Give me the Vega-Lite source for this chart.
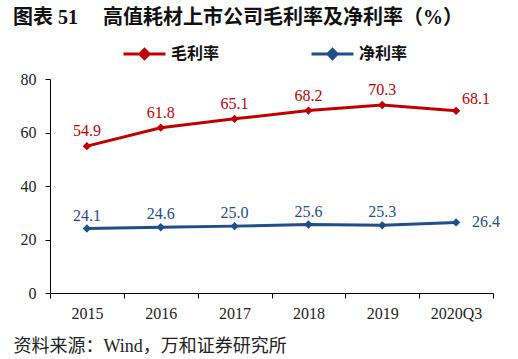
{
  "$schema": "https://vega.github.io/schema/vega-lite/v6.json",
  "width": 443,
  "height": 214,
  "autosize": "none",
  "padding": {"left": 50, "top": 79, "right": 25, "bottom": 66},
  "background": "white",
  "title": {
    "text": "图表  51　  高值耗材上市公司毛利率及净利率（%）",
    "anchor": "start",
    "frame": "group",
    "font": "Liberation Serif, Noto Sans CJK SC",
    "fontSize": 20,
    "fontWeight": "bold",
    "color": "#111111",
    "dx": -37,
    "offset": 3
  },
  "config": {
    "view": {"stroke": null},
    "font": "Liberation Serif, Noto Sans CJK SC"
  },
  "data": {
    "values": [
      {"period": "2015", "series": "毛利率", "value": 54.9},
      {"period": "2016", "series": "毛利率", "value": 61.8},
      {"period": "2017", "series": "毛利率", "value": 65.1},
      {"period": "2018", "series": "毛利率", "value": 68.2},
      {"period": "2019", "series": "毛利率", "value": 70.3},
      {"period": "2020Q3", "series": "毛利率", "value": 68.1},
      {"period": "2015", "series": "净利率", "value": 24.1},
      {"period": "2016", "series": "净利率", "value": 24.6},
      {"period": "2017", "series": "净利率", "value": 25.0},
      {"period": "2018", "series": "净利率", "value": 25.6},
      {"period": "2019", "series": "净利率", "value": 25.3},
      {"period": "2020Q3", "series": "净利率", "value": 26.4}
    ]
  },
  "encoding": {
    "x": {
      "field": "period",
      "type": "ordinal",
      "sort": null,
      "scale": {"paddingInner": 0, "paddingOuter": 0},
      "axis": {
        "labelAngle": 0,
        "labelFont": "Liberation Serif",
        "labelFontSize": 16,
        "labelColor": "#222222",
        "labelPadding": 7,
        "tickBand": "extent",
        "tickSize": 5,
        "tickColor": "#000000",
        "domainColor": "#000000",
        "title": "资料来源：Wind，万和证券研究所",
        "titleAnchor": "start",
        "titleAlign": "left",
        "titleBaseline": "middle",
        "titleX": -37,
        "titleY": 53,
        "titleFont": "Liberation Serif, Noto Sans CJK SC",
        "titleFontSize": 18,
        "titleFontWeight": "normal",
        "titleColor": "#222222"
      }
    },
    "y": {
      "field": "value",
      "type": "quantitative",
      "scale": {"domain": [0, 80]},
      "axis": {
        "values": [0, 20, 40, 60, 80],
        "grid": false,
        "title": null,
        "labelFont": "Liberation Serif",
        "labelFontSize": 16,
        "labelColor": "#222222",
        "labelPadding": 9,
        "tickSize": 5,
        "tickColor": "#000000",
        "domainColor": "#000000"
      }
    },
    "color": {
      "field": "series",
      "type": "nominal",
      "sort": ["毛利率", "净利率"],
      "scale": {"domain": ["毛利率", "净利率"], "range": ["#C00000", "#1F4E89"]},
      "legend": {
        "title": null,
        "orient": "none",
        "legendX": 72,
        "legendY": -48,
        "direction": "horizontal",
        "columnPadding": 85,
        "symbolType": "M-1,0H1M-0.22,0L0,-0.22L0.22,0L0,0.22Z",
        "symbolSize": 1764,
        "symbolStrokeWidth": 3,
        "labelFont": "Noto Sans CJK SC",
        "labelFontSize": 16,
        "labelFontWeight": "bold",
        "labelColor": "#111111",
        "labelOffset": 4
      }
    }
  },
  "layer": [
    {
      "mark": {"type": "line", "strokeWidth": 3, "point": {"shape": "diamond", "size": 70, "filled": true, "opacity": 1}}
    },
    {
      "transform": [{"filter": "datum.period != '2020Q3' && datum.series == '毛利率'"}],
      "mark": {"type": "text", "dy": -15, "fontSize": 16, "font": "Liberation Serif"},
      "encoding": {"text": {"field": "value", "type": "quantitative", "format": ".1f"}}
    },
    {
      "transform": [{"filter": "datum.period != '2020Q3' && datum.series == '净利率'"}],
      "mark": {"type": "text", "dy": -13, "fontSize": 16, "font": "Liberation Serif"},
      "encoding": {"text": {"field": "value", "type": "quantitative", "format": ".1f"}}
    },
    {
      "transform": [{"filter": "datum.period == '2020Q3' && datum.series == '毛利率'"}],
      "mark": {"type": "text", "align": "left", "dx": 6, "dy": -12, "fontSize": 16, "font": "Liberation Serif"},
      "encoding": {"text": {"field": "value", "type": "quantitative", "format": ".1f"}}
    },
    {
      "transform": [{"filter": "datum.period == '2020Q3' && datum.series == '净利率'"}],
      "mark": {"type": "text", "align": "left", "dx": 16, "dy": 0, "fontSize": 16, "font": "Liberation Serif"},
      "encoding": {"text": {"field": "value", "type": "quantitative", "format": ".1f"}}
    }
  ]
}
